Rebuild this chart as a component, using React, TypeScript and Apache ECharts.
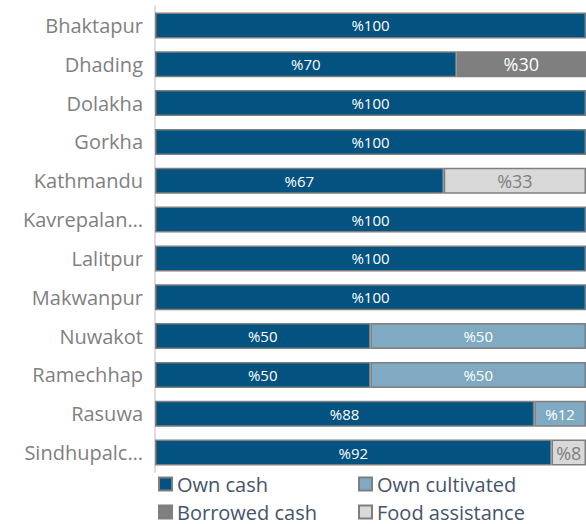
import React, { useEffect, useRef } from "react";
import * as echarts from "echarts";

const categories = [
  "Bhaktapur",
  "Dhading",
  "Dolakha",
  "Gorkha",
  "Kathmandu",
  "Kavrepalan…",
  "Lalitpur",
  "Makwanpur",
  "Nuwakot",
  "Ramechhap",
  "Rasuwa",
  "Sindhupalc…",
];
const ownCash = [100, 70, 100, 100, 67, 100, 100, 100, 50, 50, 88, 92];
const ownCultivated = [null, null, null, null, null, null, null, null, 50, 50, 12, null];
const borrowedCash = [null, 30, null, null, null, null, null, null, null, null, null, null];
const foodAssistance = [null, null, null, null, 33, null, null, null, null, null, null, 8];

const FONT = "'Open Sans', sans-serif";

export default function App() {
  const ref = useRef<HTMLDivElement>(null);
  useEffect(() => {
    if (!ref.current) return;
    const chart = echarts.init(ref.current, null, { renderer: "svg" });
    const mk = (name: string, data: (number | null)[], color: string, labelColor: string, labelSize: number) => ({
      name,
      type: "bar",
      stack: "total",
      data,
      barWidth: 26,
      itemStyle: { color, borderColor: "#7f7f7f", borderWidth: 1.5 },
      label: {
        show: true,
        position: "inside",
        formatter: (p: any) => "%" + p.value,
        color: labelColor,
        fontFamily: FONT,
        fontSize: labelSize,
      },
    });
    const legendBase = {
      orient: "vertical",
      top: 474,
      padding: 0,
      icon: "rect",
      itemWidth: 13,
      itemHeight: 13,
      itemGap: 8,
      textStyle: { color: "#44546a", fontSize: 20, fontFamily: FONT, lineHeight: 20 },
    };
    chart.setOption({
      animation: false,
      textStyle: { fontFamily: FONT },
      grid: { left: 155, right: -6, top: 6, bottom: 52 },
      xAxis: { type: "value", min: 0, max: 100, show: false },
      yAxis: {
        type: "category",
        data: categories,
        inverse: true,
        axisTick: { show: false },
        axisLine: { show: true, lineStyle: { color: "#d9dde6", width: 2 } },
        axisLabel: { color: "#7f7f7f", fontSize: 20, fontFamily: FONT, margin: 12 },
      },
      legend: [
        { ...legendBase, data: ["Own cash", "Borrowed cash"], left: 158 },
        { ...legendBase, data: ["Own cultivated", "Food assistance"], left: 358 },
      ],
      series: [
        mk("Own cash", ownCash, "#03527f", "#ffffff", 15),
        mk("Own cultivated", ownCultivated, "#7faac2", "#ffffff", 15),
        mk("Borrowed cash", borrowedCash, "#7f7f7f", "#ffffff", 18),
        mk("Food assistance", foodAssistance, "#d9d9d9", "#7f7f7f", 18),
      ],
    });
    return () => chart.dispose();
  }, []);
  return (
    <div
      ref={ref}
      style={{ position: "fixed", left: 0, top: 0, width: 586, height: 524, background: "#fff" }}
    />
  );
}
